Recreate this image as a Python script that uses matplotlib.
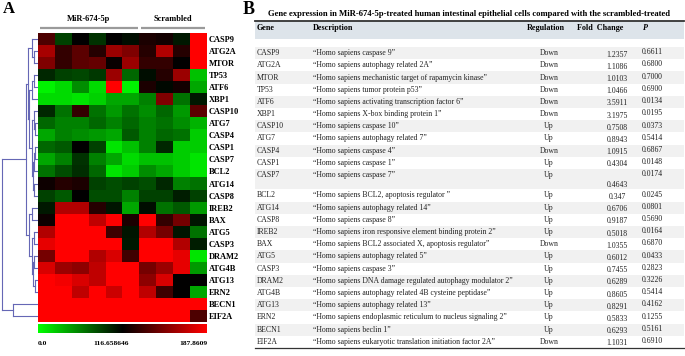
import numpy as np
import matplotlib
matplotlib.use("Agg")
import matplotlib.pyplot as plt
from matplotlib.colors import LinearSegmentedColormap, TwoSlopeNorm
from matplotlib.patches import Rectangle

# ---------------- data ----------------
genes = ["CASP9", "ATG2A", "MTOR", "TP53", "ATF6", "XBP1", "CASP10", "ATG7",
         "CASP4", "CASP1", "CASP7", "BCL2", "ATG14", "CASP8", "IREB2", "BAX",
         "ATG5", "CASP3", "DRAM2", "ATG4B", "ATG13", "ERN2", "BECN1", "EIF2A"]

group_labels = ["MiR-674-5p", "Scrambled"]
group_sizes = [6, 4]

heat_values = np.array([
    [138, 87, 117, 93, 117, 111, 124, 122, 105, 188],   # CASP9
    [163, 131, 142, 127, 160, 152, 127, 166, 127, 188],  # ATG2A
    [152, 131, 142, 145, 119, 160, 131, 131, 117, 188],  # MTOR
    [99, 87, 84, 91, 160, 70, 111, 127, 160, 29],        # TP53
    [6, 17, 52, 17, 188, 6, 124, 113, 122, 41],          # ATF6
    [17, 17, 12, 21, 41, 41, 58, 152, 64, 105],          # XBP1
    [99, 64, 131, 64, 47, 64, 52, 70, 47, 142],          # CASP10
    [70, 58, 58, 70, 58, 70, 58, 64, 52, 35],            # ATG7
    [41, 58, 52, 47, 41, 76, 58, 70, 64, 23],            # CASP4
    [70, 76, 117, 87, 12, 29, 58, 99, 23, 23],           # CASP1
    [41, 58, 93, 58, 41, 17, 29, 29, 23, 12],            # CASP7
    [64, 82, 96, 70, 12, 23, 52, 41, 23, 12],            # BCL2
    [120, 127, 124, 87, 82, 87, 82, 99, 58, 64],         # ATG14
    [87, 76, 117, 82, 82, 58, 87, 87, 103, 87],          # CASP8
    [105, 166, 166, 127, 107, 41, 111, 64, 76, 47],      # IREB2
    [120, 188, 188, 170, 188, 124, 188, 131, 149, 107],  # BAX
    [166, 188, 188, 188, 134, 107, 166, 149, 107, 64],   # ATG5
    [181, 188, 188, 188, 188, 105, 188, 188, 166, 103],  # CASP3
    [149, 188, 188, 166, 177, 134, 188, 188, 181, 12],   # DRAM2
    [177, 160, 156, 170, 188, 188, 149, 160, 181, 47],   # ATG4B
    [188, 184, 177, 170, 188, 188, 156, 177, 117, 117],  # ATG13
    [188, 188, 170, 188, 173, 188, 170, 134, 117, 41],   # ERN2
    [188, 188, 188, 188, 188, 188, 188, 188, 188, 188],  # BECN1
    [188, 188, 188, 188, 188, 188, 188, 188, 188, 138],  # EIF2A
], dtype=float)

color_min, color_mid, color_max = 0.0, 116.658646, 187.8609
colorbar_labels = ["0.0", "116.658646", "187.8609"]

# hierarchical clustering merges: (node a, node b, height); new nodes numbered from 24
merges = [
    (1, 2, 3), (0, 24, 5), (3, 4, 3.5), (26, 5, 5.5), (7, 8, 2), (6, 28, 3),
    (9, 10, 2), (30, 11, 3), (12, 13, 3), (31, 32, 4), (29, 33, 5), (27, 34, 8),
    (25, 35, 9), (14, 15, 5), (16, 17, 3), (18, 19, 3), (20, 21, 2), (39, 40, 4),
    (38, 41, 5.5), (37, 42, 8), (36, 43, 11), (22, 23, 24), (44, 45, 35),
]

table_title = ("Gene expression in MiR-674-5p-treated human intestinal epithelial "
               "cells compared with the scrambled-treated")
table_headers = ["Gene", "Description", "Regulation", "Fold  Change", "P"]
descriptions = [
    "\u201cHomo sapiens caspase 9\u201d",
    "\u201cHomo sapiens autophagy related 2A\u201d",
    "\u201cHomo sapiens mechanistic target of rapamycin kinase\u201d",
    "\u201cHomo sapiens tumor protein p53\u201d",
    "\u201cHomo sapiens activating transcription factor 6\u201d",
    "\u201cHomo sapiens X-box binding protein 1\u201d",
    "\u201cHomo sapiens caspase 10\u201d",
    "\u201cHomo sapiens autophagy related 7\u201d",
    "\u201cHomo sapiens caspase 4\u201d",
    "\u201cHomo sapiens caspase 1\u201d",
    "\u201cHomo sapiens caspase 7\u201d",
    "\u201cHomo sapiens BCL2, apoptosis regulator \u201d",
    "\u201cHomo sapiens autophagy related 14\u201d",
    "\u201cHomo sapiens caspase 8\u201d",
    "\u201cHomo sapiens iron responsive element binding protein 2\u201d",
    "\u201cHomo sapiens BCL2 associated X, apoptosis regulator\u201d",
    "\u201cHomo sapiens autophagy related 5\u201d",
    "\u201cHomo sapiens caspase 3\u201d",
    "\u201cHomo sapiens DNA damage regulated autophagy modulator 2\u201d",
    "\u201cHomo sapiens autophagy related 4B cysteine peptidase\u201d",
    "\u201cHomo sapiens autophagy related 13\u201d",
    "\u201cHomo sapiens endoplasmic reticulum to nucleus signaling 2\u201d",
    "\u201cHomo sapiens beclin 1\u201d",
    "\u201cHomo sapiens eukaryotic translation initiation factor 2A\u201d",
]
regulation = ["Down", "Down", "Down", "Down", "Down", "Down", "Up", "Up", "Down",
              "Up", "Up", "Up", "Up", "Up", "Up", "Down", "Up", "Up", "Up", "Up",
              "Up", "Up", "Up", "Down"]
fold_change = ["1.2357", "1.1086", "1.0103", "1.0466", "3.5911", "3.1975", "0.7508",
               "0.8943", "1.0915", "0.4304", "0.4643", "0.347", "0.6706", "0.9187",
               "0.5018", "1.0355", "0.6012", "0.7455", "0.6289", "0.8605", "0.8291",
               "0.5833", "0.6293", "1.1031"]
p_values = ["0.6611", "0.6800", "0.7000", "0.6900", "0.0134", "0.0195", "0.0373",
            "0.5414", "0.6867", "0.0148", "0.0174", "0.0245", "0.0801", "0.5690",
            "0.0164", "0.6870", "0.0433", "0.2823", "0.3226", "0.5414", "0.4162",
            "0.1255", "0.5161", "0.6910"]

# ---------------- layout ----------------
W, H = 685, 356
SERIF = "Liberation Serif"
plt.rcParams["font.family"] = [SERIF, "DejaVu Serif"]

fig = plt.figure(figsize=(W / 100, H / 100), dpi=100)


def rect(x0, y0, x1, y1):
    return [x0 / W, 1 - y1 / H, (x1 - x0) / W, (y1 - y0) / H]


n_rows, n_cols = heat_values.shape
cmap = LinearSegmentedColormap.from_list("gbr", ["#00ff00", "#000000", "#ff0000"])
norm = TwoSlopeNorm(vmin=color_min, vcenter=color_mid, vmax=color_max)

# heatmap
ax_h = fig.add_axes(rect(38, 33, 207, 322))
ax_h.imshow(heat_values, cmap=cmap, norm=norm, aspect="auto", interpolation="nearest")
ax_h.set_xticks([])
ax_h.yaxis.tick_right()
ax_h.set_yticks(range(n_rows))
ax_h.set_yticklabels(genes, fontsize=6.0, fontweight="bold")
ax_h.tick_params(axis="y", length=0, pad=1.5)
for s in ax_h.spines.values():
    s.set_visible(False)

tr = ax_h.get_xaxis_transform()
start = 0
for lab, size in zip(group_labels, group_sizes):
    x0, x1 = start - 0.4, start + size - 1 + 0.4
    ax_h.plot([x0, x1], [1.018, 1.018], transform=tr, color="#9a9a9a", lw=1.6,
              clip_on=False, solid_capstyle="butt")
    ax_h.text((x0 + x1) / 2, 1.036, lab, transform=tr, ha="center", va="bottom",
              fontsize=6, fontweight="bold")
    start += size

# colour bar
ax_c = fig.add_axes(rect(38, 324, 207, 333))
ax_c.imshow(np.linspace(0, 1, 256)[None, :], cmap=cmap, aspect="auto",
            extent=[0, 1, 0, 1])
ax_c.set_axis_off()
label_pos = [(0.0, "left"), (0.43, "center"), (1.0, "right")]
for (fx, ha), lab in zip(label_pos, colorbar_labels):
    ax_c.text(fx, -0.9, lab, transform=ax_c.transAxes, ha=ha, va="top",
              fontsize=5.4, fontweight="bold")

# dendrogram
ax_d = fig.add_axes(rect(0, 33, 38, 322))
ax_d.set_xlim(37, -1)
ax_d.set_ylim(n_rows - 0.5, -0.5)
ax_d.set_axis_off()
node_y = {i: float(i) for i in range(n_rows)}
node_h = {i: 0.0 for i in range(n_rows)}
dcol = "#6567b5"
for k, (a, b, hgt) in enumerate(merges):
    nid = n_rows + k
    ya, yb = node_y[a], node_y[b]
    ax_d.plot([node_h[a], hgt], [ya, ya], color=dcol, lw=0.8)
    ax_d.plot([node_h[b], hgt], [yb, yb], color=dcol, lw=0.8)
    ax_d.plot([hgt, hgt], [ya, yb], color=dcol, lw=0.8)
    node_y[nid] = (ya + yb) / 2
    node_h[nid] = hgt

# panel letters + table (pixel coordinates)
ax_t = fig.add_axes([0, 0, 1, 1])
ax_t.set_xlim(0, W)
ax_t.set_ylim(H, 0)
ax_t.set_axis_off()
ax_t.patch.set_alpha(0)

ax_t.text(3, 9, "A", fontsize=12, fontweight="bold", va="center", ha="left")
ax_t.text(243, 10, "B", fontsize=13, fontweight="bold", va="center", ha="left")
ax_t.text(268, 14, table_title, fontsize=6.2, fontweight="bold", va="center", ha="left")

tx0, tx1 = 255, 684
head_top, head_bot = 21, 39
ax_t.add_patch(Rectangle((tx0, head_top), tx1 - tx0, head_bot - head_top,
                         facecolor="#dde4ea", edgecolor="none"))
ax_t.plot([tx0, tx1], [head_top, head_top], color="#333333", lw=1.3)

col_x = [257, 313, 549, 577, 643]
head_y = 28
hfs = 5.9
ax_t.text(col_x[0], head_y, table_headers[0], fontsize=hfs, fontweight="bold", va="center")
ax_t.text(col_x[1], head_y, table_headers[1], fontsize=hfs, fontweight="bold", va="center")
ax_t.text(col_x[2] - 3, head_y, table_headers[2], fontsize=hfs, fontweight="bold", va="center", ha="center")
ax_t.text(col_x[3], head_y, table_headers[3], fontsize=hfs, fontweight="bold", va="center")
ax_t.text(col_x[4], head_y, table_headers[4], fontsize=hfs, fontweight="bold",
          fontstyle="italic", va="center")

pitch = 12.2
tall_rows = {"CASP7": 1.67}
y = 47.0
fold_x = 617
fs = 5.6
tc = "#222222"
for i, g in enumerate(genes):
    hrow = pitch * tall_rows.get(g, 1.0)
    if i % 2 == 0:
        ax_t.add_patch(Rectangle((tx0, y), tx1 - tx0, hrow, facecolor="#f1f1f1",
                                 edgecolor="none"))
    yc = y + pitch / 2
    ax_t.text(col_x[0], yc, g, fontsize=fs, va="center", color=tc)
    ax_t.text(col_x[1], yc, descriptions[i], fontsize=fs, va="center", color=tc)
    ax_t.text(col_x[2], yc, regulation[i], fontsize=fs, va="center", ha="center", color=tc)
    fy = yc + 1.5 if g not in tall_rows else yc + 10
    ax_t.text(fold_x, fy, fold_change[i], fontsize=fs, va="center", ha="center", color=tc)
    ax_t.text(col_x[4] - 1, yc - 0.8, p_values[i], fontsize=fs, va="center", color=tc)
    y += hrow

ax_t.plot([tx0, tx1], [y + 0.5, y + 0.5], color="#333333", lw=0.9)

fig.savefig("out.png", dpi=100)
